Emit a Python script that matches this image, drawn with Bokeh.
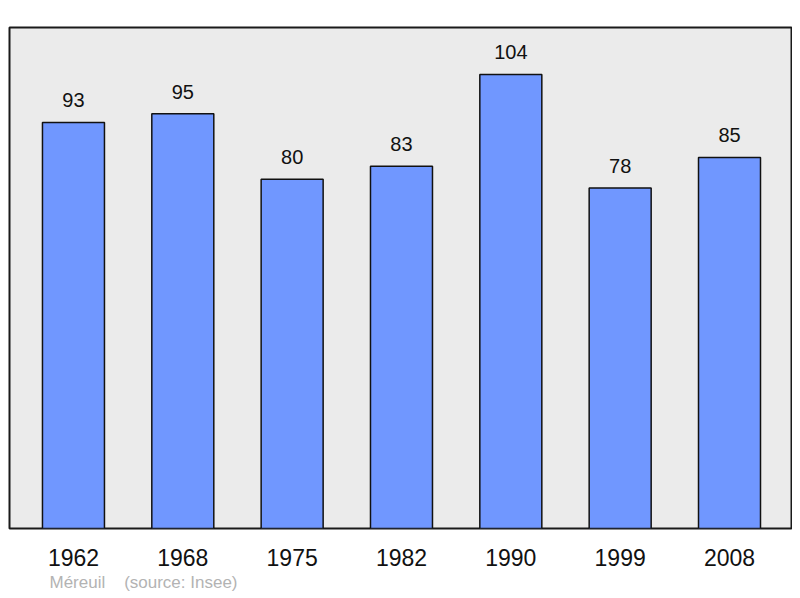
from bokeh.plotting import figure
from bokeh.models import ColumnDataSource, FixedTicker, Title, Range1d
from bokeh.core.properties import value
from bokeh.embed import file_html
from bokeh.resources import INLINE

years = ["1962", "1968", "1975", "1982", "1990", "1999", "2008"]
population = [93, 95, 80, 83, 104, 78, 85]
footer_place = "Méreuil"
footer_source = "(source: Insee)"

xs = list(range(len(years)))
src = ColumnDataSource(dict(x=xs, top=population, lab=[str(v) for v in population]))

p = figure(width=792, height=596, output_backend="svg", toolbar_location=None,
           x_range=Range1d(-0.585, 6.567), y_range=Range1d(0, 114.76),
           min_border_left=9, min_border_right=1, min_border_top=27, min_border_bottom=68)

p.background_fill_color = "#ebebeb"
p.border_fill_color = "white"
p.outline_line_color = "#1a1a1a"
p.outline_line_width = 2
p.xgrid.visible = False
p.ygrid.visible = False
p.yaxis.visible = False

p.vbar(x="x", top="top", bottom=0, width=0.567, source=src,
       fill_color="#7097ff", line_color="#111111", line_width=1.5)

p.text(x="x", y="top", text="lab", source=src, y_offset=-22,
       text_align="center", text_baseline="alphabetic",
       text_font=value("Liberation Sans"), text_font_size="20px", text_color="#111111")

ax = p.xaxis[0]
ax.ticker = FixedTicker(ticks=xs)
ax.major_label_overrides = {i: y for i, y in zip(xs, years)}
ax.axis_line_color = None
ax.major_tick_line_color = None
ax.minor_tick_line_color = None
ax.major_label_text_font = "Liberation Sans"
ax.major_label_text_font_size = "23px"
ax.major_label_text_color = "#111111"
ax.major_label_standoff = 14

footer = Title(text=footer_place + "\u00a0\u00a0\u00a0\u00a0" + footer_source,
               align="left", offset=40, standoff=5,
               text_font="Liberation Sans", text_font_size="17px",
               text_font_style="normal", text_color="#b3b3b3")
p.add_layout(footer, "below")

open("out.html", "w").write(file_html(p, INLINE))
